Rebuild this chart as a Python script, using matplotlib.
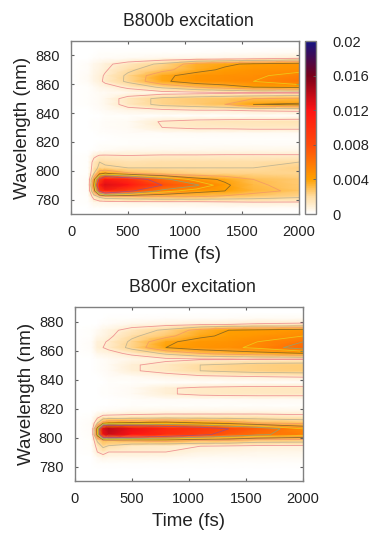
import numpy as np
import matplotlib
matplotlib.use('Agg')
import matplotlib.pyplot as plt
from matplotlib.colors import LinearSegmentedColormap, Normalize

plt.rcParams['font.family'] = ['Liberation Sans', 'DejaVu Sans']

FIG_W, FIG_H = 374, 539

# sampled axes
times = [0, 150, 200, 250, 300, 500, 800, 1100, 1350, 1600, 2000]
wavelengths = [890, 886, 882, 878, 874, 870, 866, 862, 858, 854, 850, 846, 842, 838, 834, 830,
               826, 822, 818, 814, 810, 806, 802, 798, 794, 790, 786, 782, 778, 774, 770]

# intensity, units of 1e-4
b800b = [
    [0, 0, 0, 0, 0, 0, 0, 0, 0, 0, 0],
    [0, 0, 0, 0, 0, 0, 0, 0, 0, 0, 0],
    [0, 0, 0, 1, 1, 1, 1, 1, 2, 2, 3],
    [0, 0, 1, 2, 2, 3, 4, 5, 6, 7, 10],
    [0, 2, 4, 6, 8, 14, 22, 35, 38, 42, 45],
    [0, 2, 5, 7, 9, 18, 27, 36, 42, 46, 47],
    [0, 3, 6, 8, 11, 22, 37, 45, 47, 48, 54],
    [0, 3, 6, 8, 12, 22, 38, 46, 48, 50, 60],
    [0, 1, 3, 5, 6, 12, 22, 30, 35, 40, 42],
    [0, 1, 2, 3, 3, 4, 6, 7, 8, 9, 10],
    [0, 1, 2, 3, 4, 14, 23, 26, 28, 30, 32],
    [0, 1, 2, 3, 4, 14, 23, 26, 30, 40, 42],
    [0, 0, 1, 2, 3, 6, 8, 10, 10, 11, 12],
    [0, 0, 0, 0, 1, 1, 1, 1, 1, 2, 2],
    [0, 0, 1, 1, 2, 3, 11, 14, 15, 15, 16],
    [0, 0, 1, 1, 2, 3, 10, 12, 12, 13, 13],
    [0, 0, 0, 1, 1, 2, 2, 3, 3, 3, 3],
    [0, 0, 0, 0, 0, 1, 1, 1, 1, 1, 1],
    [0, 0, 0, 1, 1, 1, 2, 2, 2, 2, 2],
    [0, 0, 1, 2, 3, 4, 4, 4, 5, 5, 5],
    [0, 1, 8, 12, 12, 11, 12, 12, 12, 12, 12],
    [0, 1, 14, 20, 18, 17, 18, 18, 18, 18, 20],
    [0, 1, 16, 22, 22, 20, 20, 20, 20, 20, 24],
    [0, 1, 20, 38, 42, 32, 27, 24, 23, 23, 22],
    [0, 2, 35, 85, 115, 100, 65, 45, 38, 30, 26],
    [0, 2, 40, 115, 130, 120, 80, 62, 42, 32, 26],
    [0, 2, 32, 85, 110, 85, 55, 44, 40, 33, 28],
    [0, 1, 14, 22, 26, 28, 30, 30, 28, 26, 22],
    [0, 1, 5, 6, 6, 7, 7, 7, 8, 9, 9],
    [0, 0, 1, 1, 1, 1, 1, 2, 2, 2, 2],
    [0, 0, 0, 0, 0, 0, 0, 0, 0, 0, 0],
]
b800r = [
    [0, 0, 0, 0, 0, 0, 0, 0, 0, 0, 0],
    [0, 0, 0, 0, 0, 0, 0, 0, 0, 0, 0],
    [0, 0, 0, 0, 1, 1, 2, 2, 2, 3, 3],
    [0, 0, 0, 2, 2, 5, 7, 9, 10, 11, 12],
    [0, 1, 3, 5, 7, 14, 22, 34, 40, 42, 45],
    [0, 1, 4, 6, 8, 18, 27, 38, 42, 45, 50],
    [0, 2, 8, 9, 11, 22, 38, 44, 46, 50, 60],
    [0, 2, 9, 10, 12, 23, 40, 46, 48, 52, 66],
    [0, 1, 5, 6, 7, 12, 22, 30, 34, 36, 40],
    [0, 0, 1, 2, 3, 5, 8, 9, 9, 10, 10],
    [0, 0, 1, 2, 3, 9, 13, 20, 22, 24, 25],
    [0, 0, 1, 2, 3, 9, 13, 20, 22, 24, 25],
    [0, 0, 0, 1, 2, 3, 6, 8, 9, 10, 11],
    [0, 0, 0, 0, 1, 1, 1, 1, 1, 1, 1],
    [0, 0, 0, 1, 1, 3, 9, 12, 13, 14, 14],
    [0, 0, 0, 1, 1, 3, 9, 12, 13, 13, 13],
    [0, 0, 0, 0, 0, 1, 2, 2, 2, 3, 3],
    [0, 0, 0, 0, 0, 1, 1, 1, 1, 1, 1],
    [0, 0, 1, 2, 3, 4, 5, 5, 5, 5, 5],
    [0, 1, 8, 14, 14, 15, 16, 16, 16, 16, 14],
    [0, 2, 20, 35, 40, 42, 45, 40, 36, 30, 28],
    [0, 2, 45, 130, 140, 125, 105, 95, 80, 70, 50],
    [0, 2, 45, 125, 135, 120, 100, 85, 72, 62, 55],
    [0, 1, 22, 30, 30, 32, 34, 30, 30, 26, 25],
    [0, 1, 14, 22, 19, 13, 11, 10, 9, 8, 8],
    [0, 1, 10, 14, 10, 10, 10, 7, 6, 5, 5],
    [0, 0, 3, 5, 4, 4, 4, 3, 3, 3, 3],
    [0, 0, 1, 1, 1, 1, 1, 1, 1, 1, 1],
    [0, 0, 0, 0, 0, 0, 0, 0, 0, 0, 0],
    [0, 0, 0, 0, 0, 0, 0, 0, 0, 0, 0],
    [0, 0, 0, 0, 0, 0, 0, 0, 0, 0, 0],
]

contour_levels = [0.001, 0.002, 0.003, 0.004, 0.005, 0.006, 0.008]
contour_colors = ['#e8707a', '#a9a690', '#f0906a', '#5f5228', '#e8e020', '#70b090', '#8a4a9a']
x_ticks = [0, 500, 1000, 1500, 2000]
y_ticks = [780, 800, 820, 840, 860, 880]
cbar_ticks = [0, 0.004, 0.008, 0.012, 0.016, 0.02]
cbar_labels = ['0', '0.004', '0.008', '0.012', '0.016', '0.02']

cmap = LinearSegmentedColormap.from_list('heat', [
    (0.0, '#ffffff'), (0.1, '#ffdca0'), (0.2, '#ffa000'), (0.4, '#ff4a0a'),
    (0.6, '#ff1414'), (0.8, '#78001a'), (1.0, '#141482')])
norm = Normalize(0, 0.02)


def px_axes(fig, x0, x1, y0, y1):
    return fig.add_axes([x0 / FIG_W, 1 - y1 / FIG_H, (x1 - x0) / FIG_W, (y1 - y0) / FIG_H])


def draw_map(ax, values, title):
    z = np.array(values) / 1e4
    mesh = ax.pcolormesh(times, wavelengths, z, cmap=cmap, norm=norm, shading='gouraud')
    ax.contour(times, wavelengths, z, levels=contour_levels, colors=contour_colors,
               linewidths=0.6, alpha=0.7)
    ax.set_xlim(0, 2000)
    ax.set_ylim(770, 890)
    ax.set_xticks(x_ticks)
    ax.set_yticks(y_ticks)
    ax.tick_params(direction='in', top=True, right=True, length=2.5, width=0.8,
                   color='#606060', labelsize=10.5, labelcolor='#222222', pad=8)
    ax.set_xlabel('Time (fs)', fontsize=13.5, color='#222222', labelpad=5)
    ax.set_ylabel('Wavelength (nm)', fontsize=13.5, color='#222222', labelpad=3)
    ax.set_title(title, fontsize=12.7, color='#222222', pad=11, x=0.515)
    for sp in ax.spines.values():
        sp.set_color('#808080')
        sp.set_linewidth(1.0)
    return mesh


fig = plt.figure(figsize=(FIG_W / 100, FIG_H / 100), dpi=100)

ax1 = px_axes(fig, 71, 299, 41, 214)
mesh = draw_map(ax1, b800b, 'B800b excitation')

ax2 = px_axes(fig, 74.5, 303, 307, 481)
draw_map(ax2, b800r, 'B800r excitation')

cax = px_axes(fig, 304.5, 316, 41, 214)
cbar = fig.colorbar(mesh, cax=cax)
cbar.set_ticks(cbar_ticks)
cbar.set_ticklabels(cbar_labels)
cbar.ax.tick_params(direction='in', length=2, width=0.6, color='#606060', labelsize=10.5,
                    labelcolor='#222222', pad=12)
cbar.outline.set_edgecolor('#808080')
cbar.outline.set_linewidth(1.0)

fig.savefig('out.png', dpi=100)
